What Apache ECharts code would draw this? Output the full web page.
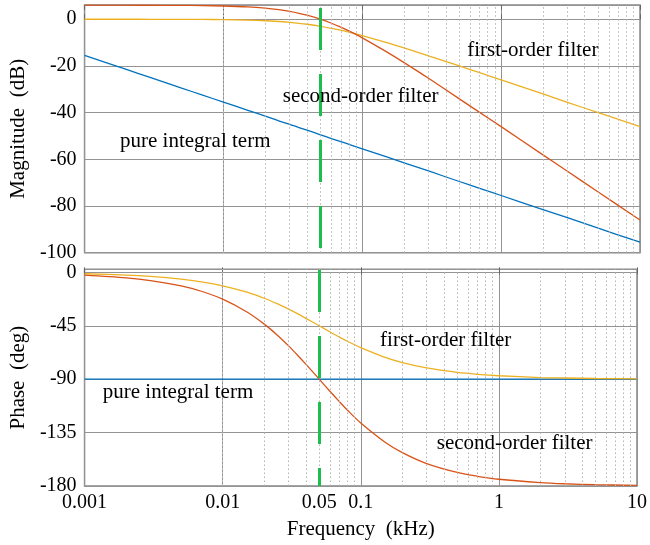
<!DOCTYPE html>
<html>
<head>
<meta charset="utf-8">
<script src="https://cdn.jsdelivr.net/npm/echarts@6/dist/echarts.min.js"></script>
<style>html,body{margin:0;padding:0;background:#fff}#c{width:650px;height:545px}</style>
</head>
<body>
<div id="c"></div>
<script>
const freq = [0.001, 0.002, 0.003, 0.005, 0.007, 0.01, 0.015, 0.02, 0.025, 0.03, 0.035, 0.04, 0.05, 0.06, 0.07, 0.08, 0.1, 0.15, 0.2, 0.3, 0.5, 0.7, 1, 2, 3, 5, 10];
const firstMag = [0, -0.01, -0.02, -0.04, -0.08, -0.17, -0.37, -0.64, -0.97, -1.34, -1.73, -2.15, -3.01, -3.87, -4.71, -5.51, -6.99, -10.0, -12.3, -15.7, -20.0, -22.9, -26.0, -32.0, -35.6, -40.0, -46.0];
const secondMag = [6.02, 6.01, 5.99, 5.93, 5.85, 5.68, 5.28, 4.74, 4.08, 3.34, 2.56, 1.72, 0, -1.72, -3.40, -5.0, -7.96, -14.0, -18.6, -25.3, -34.1, -39.9, -46.0, -58.1, -65.1, -74.0, -86.0];
const integMag = [-15.5, -21.5, -25.0, -29.5, -32.4, -35.5, -39.0, -41.5, -43.5, -45.0, -46.4, -47.5, -49.5, -51.1, -52.4, -53.6, -55.5, -59.0, -61.5, -65.0, -69.5, -72.4, -75.5, -81.5, -85.0, -89.5, -95.5];
const firstPh = [-1.15, -2.29, -3.43, -5.71, -7.97, -11.3, -16.7, -21.8, -26.6, -31.0, -35.0, -38.7, -45, -50.2, -54.5, -58.0, -63.4, -71.6, -76.0, -80.5, -84.3, -85.9, -87.1, -88.6, -89.0, -89.4, -89.7];
const secondPh = [-2.29, -4.58, -6.87, -11.4, -15.9, -22.6, -33.4, -43.6, -53.1, -61.9, -70.0, -77.3, -90, -100.4, -108.9, -116.0, -126.9, -143.1, -151.9, -161.1, -168.6, -171.8, -174.3, -177.1, -178.1, -178.9, -179.4];
const integPh = [-90, -90, -90, -90, -90, -90, -90, -90, -90, -90, -90, -90, -90, -90, -90, -90, -90, -90, -90, -90, -90, -90, -90, -90, -90, -90, -90];
const xTickLabels = [0.001, 0.01, 0.05, 0.1, 1, 10];
const xLabelText = ['0.001', '0.01', '0.05', '0.1', '1', '10'];
const minorGrid = [0.002, 0.003, 0.004, 0.005, 0.006, 0.007, 0.008, 0.009,
  0.02, 0.03, 0.04, 0.05, 0.06, 0.07, 0.08, 0.09,
  0.2, 0.3, 0.4, 0.5, 0.6, 0.7, 0.8, 0.9,
  2, 3, 4, 5, 6, 7, 8, 9];
const magTicks = [-100, -80, -60, -40, -20, 0];
const phTicks = [-180, -135, -90, -45, 0];
const cutoff = 0.05;
const notes = {
  magFirst: [1.69, -13.2, 'first-order filter'],
  magSecond: [0.0973, -33.2, 'second-order filter'],
  magInteg: [0.00627, -52.4, 'pure integral term'],
  phFirst: [0.412, -57.0, 'first-order filter'],
  phInteg: [0.00475, -101, 'pure integral term'],
  phSecond: [1.30, -144, 'second-order filter']
};

const SERIF = 'Liberation Serif';
const BLUE = '#0072BD', RED = '#D95319', YEL = '#EDB120', GREEN = '#1DBE4E';
const pairs = (ys) => freq.map((f, i) => [f, ys[i]]);

function note(key) {
  const n = notes[key];
  return { coord: [n[0], n[1]], symbol: 'rect', symbolSize: 0,
    label: { show: true, position: 'inside', formatter: n[2], color: '#000', fontSize: 21, fontFamily: SERIF } };
}

function xAx(gridIndex, pos, showLabels, name) {
  return {
    type: 'log', logBase: 10, gridIndex, position: pos, min: 0.001, max: 10,
    axisLine: { show: false },
    axisTick: { show: true, inside: true, length: 5, lineStyle: { color: '#666' } },
    minorTick: { show: false },
    splitLine: { show: pos === 'bottom', lineStyle: { color: '#939393', width: 1 } },
    minorSplitLine: { show: false },
    axisLabel: {
      show: showLabels, customValues: xTickLabels, margin: 7,
      color: '#000', fontSize: 20, fontFamily: SERIF,
      formatter: (v) => { const i = xTickLabels.findIndex(t => Math.abs(Math.log10(t) - Math.log10(v)) < 1e-6); return i >= 0 ? xLabelText[i] : ''; }
    },
    name: name || '', nameLocation: 'middle', nameGap: 33,
    nameTextStyle: { color: '#000', fontSize: 21, fontFamily: SERIF }
  };
}

function yAx(gridIndex, min, max, interval, ticks, name) {
  return {
    type: 'value', gridIndex, min, max, interval,
    axisLine: { show: false }, axisTick: { show: false },
    splitLine: { show: true, lineStyle: { color: '#939393', width: 1 } },
    axisLabel: { color: '#000', fontSize: 20, fontFamily: SERIF, margin: 8,
      formatter: (v) => ticks.indexOf(Math.round(v * 1000) / 1000) >= 0 ? String(v) : '' },
    name, nameLocation: 'middle', nameGap: 50, nameRotate: 90,
    nameTextStyle: { color: '#000', fontSize: 21, fontFamily: SERIF }
  };
}

function line(xi, yi, data, color, extra) {
  return Object.assign({ type: 'line', xAxisIndex: xi, yAxisIndex: yi, data, showSymbol: false, symbol: 'none',
    smooth: 0.3, lineStyle: { color, width: 1.3 }, itemStyle: { color }, z: 3, animation: false }, extra || {});
}

function cutLine(offset) {
  return { silent: true, symbol: 'none', animation: false, label: { show: false },
    lineStyle: { color: GREEN, width: 3, type: [42, 24], dashOffset: offset },
    data: [{ xAxis: cutoff }] };
}

function minorSeries(xi, yi, data) {
  return { type: 'line', xAxisIndex: xi, yAxisIndex: yi, data, showSymbol: false, symbol: 'none', silent: true,
    lineStyle: { opacity: 0 }, z: 1, animation: false, tooltip: { show: false },
    markLine: { silent: true, symbol: 'none', animation: false, label: { show: false },
      lineStyle: { color: '#b4b4b4', width: 1, type: [1.5, 2.5] },
      data: minorGrid.map(v => ({ xAxis: v })) } };
}

const option = {
  animation: false,
  grid: [
    { left: 80, right: 10, top: 5, height: 247.7, show: true, borderColor: '#888', borderWidth: 1.5 },
    { left: 80, right: 10, top: 269.3, height: 216.7, show: true, borderColor: '#888', borderWidth: 1.5 }
  ],
  xAxis: [
    xAx(0, 'bottom', false), xAx(0, 'top', false),
    xAx(1, 'bottom', true, 'Frequency  (kHz)'), xAx(1, 'top', false)
  ],
  yAxis: [
    yAx(0, -100, 6.1, 20, magTicks, 'Magnitude  (dB)'),
    yAx(1, -180, 2.6, 45, phTicks, 'Phase  (deg)')
  ],
  series: [
    minorSeries(0, 0, pairs(integMag)),
    minorSeries(2, 1, pairs(integPh)),
    line(0, 0, pairs(integMag), BLUE, { markLine: cutLine(61.3), markPoint: { data: [note('magInteg')] } }),
    line(0, 0, pairs(firstMag), YEL, { markPoint: { data: [note('magFirst')] } }),
    line(0, 0, pairs(secondMag), RED, { markPoint: { data: [note('magSecond')] } }),
    line(2, 1, pairs(integPh), BLUE, { markLine: cutLine(24), markPoint: { data: [note('phInteg')] } }),
    line(2, 1, pairs(firstPh), YEL, { markPoint: { data: [note('phFirst')] } }),
    line(2, 1, pairs(secondPh), RED, { markPoint: { data: [note('phSecond')] } })
  ]
};
const chart = echarts.init(document.getElementById('c'), null, { renderer: 'canvas' });
chart.setOption(option);
</script>
</body>
</html>
